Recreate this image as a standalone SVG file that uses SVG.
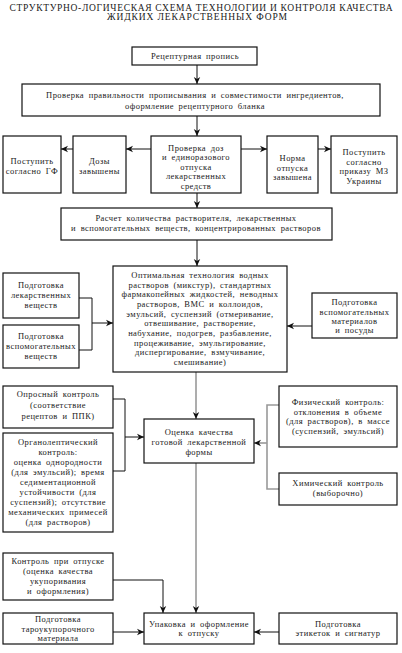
<svg xmlns="http://www.w3.org/2000/svg" width="402" height="653" viewBox="0 0 402 653">
<defs>
<style>
.box{fill:#fff;stroke:#111;stroke-width:1.2}
.t{font-family:"Liberation Serif","DejaVu Serif",serif;font-size:8.5px;fill:#1a1a1a;text-anchor:middle;letter-spacing:0.45px;word-spacing:2px}
.title{font-family:"Liberation Serif","DejaVu Serif",serif;font-size:9.5px;fill:#1a1a1a;text-anchor:middle}
.c{fill:none;stroke:#111;stroke-width:1}
.g{fill:none;stroke:#999;stroke-width:1.6}
</style>
<marker id="ab" markerWidth="8" markerHeight="8" refX="7" refY="4" orient="auto" markerUnits="userSpaceOnUse"><path d="M0,0.8 L7,4 L0,7.2 L2,4 z" fill="#111"/></marker>
<marker id="ag" markerWidth="8" markerHeight="8" refX="7" refY="4" orient="auto" markerUnits="userSpaceOnUse"><path d="M0,0.8 L7,4 L0,7.2 L2,4 z" fill="#111"/></marker>
</defs>
<rect width="402" height="653" fill="#fff"/>
<g id="title">
<text class="title" x="201" y="11" textLength="383" lengthAdjust="spacing">СТРУКТУРНО-ЛОГИЧЕСКАЯ СХЕМА ТЕХНОЛОГИИ И КОНТРОЛЯ КАЧЕСТВА</text>
<text class="title" x="197" y="20" textLength="180" lengthAdjust="spacing">ЖИДКИХ ЛЕКАРСТВЕННЫХ ФОРМ</text>
</g>
<g id="connectors">
<path class="c" d="M197,65 V84" marker-end="url(#ab)"/>
<path class="c" d="M197,116 V136" marker-end="url(#ab)"/>
<path class="c" d="M151,149 H126" marker-end="url(#ab)"/>
<path class="c" d="M73,149 H61" marker-end="url(#ab)"/>
<path class="c" d="M241,149 H267" marker-end="url(#ab)"/>
<path class="c" d="M318,149 H331" marker-end="url(#ab)"/>
<path class="c" d="M197,193 V208" marker-end="url(#ab)"/>
<path class="c" d="M197,240 V266" marker-end="url(#ab)"/>
<path class="c" d="M79,298 H92 V350 H79"/>
<path class="c" d="M92,323 H113" marker-end="url(#ab)"/>
<path class="c" d="M312,326 H287" marker-end="url(#ab)"/>
<path class="g" d="M196,372 V419" marker-end="url(#ag)"/>
<path class="c" d="M113,399 H125 V471 H113"/>
<path class="c" d="M125,437 H144" marker-end="url(#ab)"/>
<path class="g" d="M279,405 H267 V489 H279"/>
<path class="g" d="M267,443 H254" marker-end="url(#ag)"/>
<path class="g" d="M196,463 V613" marker-end="url(#ag)"/>
<path class="c" d="M113,580 H163 V613" marker-end="url(#ab)"/>
<path class="c" d="M113,632 H144" marker-end="url(#ab)"/>
<path class="c" d="M279,632 H254" marker-end="url(#ab)"/>
</g>
<g id="n1"><rect class="box" x="132" y="47" width="125" height="18"/>
<text class="t" x="195" y="59">Рецептурная пропись</text></g>
<g id="n2"><rect class="box" x="22" y="84" width="358" height="32"/>
<text class="t" x="195" y="98">Проверка правильности прописывания и совместимости ингредиентов,</text>
<text class="t" x="195" y="109">оформление рецептурного бланка</text></g>
<g id="n3a"><rect class="box" x="3" y="136" width="58" height="57"/>
<text class="t" x="32" y="164">Поступить</text>
<text class="t" x="32" y="174">согласно ГФ</text></g>
<g id="n3b"><rect class="box" x="73" y="136" width="53" height="57"/>
<text class="t" x="99.5" y="164">Дозы</text>
<text class="t" x="99.5" y="174">завышены</text></g>
<g id="n3c"><rect class="box" x="151" y="136" width="90" height="57"/>
<text class="t" x="196" y="151">Проверка доз</text>
<text class="t" x="196" y="160">и единоразового</text>
<text class="t" x="196" y="169.5">отпуска</text>
<text class="t" x="196" y="179">лекарственных</text>
<text class="t" x="196" y="188.5">средств</text></g>
<g id="n3d"><rect class="box" x="267" y="136" width="51" height="57"/>
<text class="t" x="292.5" y="161">Норма</text>
<text class="t" x="292.5" y="170.5">отпуска</text>
<text class="t" x="292.5" y="180">завышена</text></g>
<g id="n3e"><rect class="box" x="331" y="136" width="66" height="57"/>
<text class="t" x="364" y="155">Поступить</text>
<text class="t" x="364" y="164.5">согласно</text>
<text class="t" x="364" y="174">приказу МЗ</text>
<text class="t" x="364" y="183.5">Украины</text></g>
<g id="n4"><rect class="box" x="61" y="208" width="271" height="32"/>
<text class="t" x="196" y="221">Расчет количества растворителя, лекарственных</text>
<text class="t" x="196" y="231">и вспомогательных веществ, концентрированных растворов</text></g>
<g id="n5"><rect class="box" x="113" y="266" width="174" height="106"/>
<text class="t" x="200" y="278">Оптимальная технология водных</text>
<text class="t" x="200" y="287.7">растворов (микстур), стандартных</text>
<text class="t" x="200" y="297.4">фармакопейных жидкостей, неводных</text>
<text class="t" x="200" y="307">растворов, ВМС и коллоидов,</text>
<text class="t" x="200" y="316.7">эмульсий, суспензий (отмеривание,</text>
<text class="t" x="200" y="326.4">отвешивание, растворение,</text>
<text class="t" x="200" y="336">набухание, подогрев, разбавление,</text>
<text class="t" x="200" y="345.7">процеживание, эмульгирование,</text>
<text class="t" x="200" y="355.4">диспергирование, взмучивание,</text>
<text class="t" x="200" y="365">смешивание)</text></g>
<g id="n5a"><rect class="box" x="3" y="273" width="76" height="45"/>
<text class="t" x="41" y="288">Подготовка</text>
<text class="t" x="41" y="298">лекарственных</text>
<text class="t" x="41" y="308">веществ</text></g>
<g id="n5b"><rect class="box" x="3" y="325" width="76" height="43"/>
<text class="t" x="41" y="339">Подготовка</text>
<text class="t" x="41" y="349">вспомогательных</text>
<text class="t" x="41" y="359">веществ</text></g>
<g id="n5c"><rect class="box" x="312" y="293" width="85" height="45"/>
<text class="t" x="354.5" y="305">Подготовка</text>
<text class="t" x="354.5" y="315">вспомогательных</text>
<text class="t" x="354.5" y="324">материалов</text>
<text class="t" x="354.5" y="333">и посуды</text></g>
<g id="n6"><rect class="box" x="144" y="419" width="110" height="44"/>
<text class="t" x="199" y="435">Оценка качества</text>
<text class="t" x="199" y="445">готовой лекарственной</text>
<text class="t" x="199" y="455">формы</text></g>
<g id="n6a"><rect class="box" x="3" y="386" width="110" height="42"/>
<text class="t" x="58" y="397">Опросный контроль</text>
<text class="t" x="58" y="408">(соответствие</text>
<text class="t" x="58" y="419">рецептов и ППК)</text></g>
<g id="n6b"><rect class="box" x="3" y="433" width="110" height="99"/>
<text class="t" x="58" y="445">Органолептический</text>
<text class="t" x="58" y="455">контроль:</text>
<text class="t" x="58" y="465">оценка однородности</text>
<text class="t" x="58" y="475">(для эмульсий); время</text>
<text class="t" x="58" y="485">седиментационной</text>
<text class="t" x="58" y="495">устойчивости (для</text>
<text class="t" x="58" y="505">суспензий); отсутствие</text>
<text class="t" x="58" y="515">механических примесей</text>
<text class="t" x="58" y="525">(для растворов)</text></g>
<g id="n6c"><rect class="box" x="279" y="386" width="118" height="61"/>
<text class="t" x="338" y="405">Физический контроль:</text>
<text class="t" x="338" y="414.5">отклонения в объеме</text>
<text class="t" x="338" y="424">(для растворов), в массе</text>
<text class="t" x="338" y="433.5">(суспензий, эмульсий)</text></g>
<g id="n6d"><rect class="box" x="279" y="473" width="118" height="32"/>
<text class="t" x="338" y="486">Химический контроль</text>
<text class="t" x="338" y="496">(выборочно)</text></g>
<g id="n7"><rect class="box" x="144" y="613" width="110" height="31"/>
<text class="t" x="199" y="627">Упаковка и оформление</text>
<text class="t" x="199" y="636">к отпуску</text></g>
<g id="n7a"><rect class="box" x="3" y="553" width="110" height="47"/>
<text class="t" x="58" y="564">Контроль при отпуске</text>
<text class="t" x="58" y="574">(оценка качества</text>
<text class="t" x="58" y="584">укупоривания</text>
<text class="t" x="58" y="594">и оформления)</text></g>
<g id="n7b"><rect class="box" x="3" y="613" width="110" height="31"/>
<text class="t" x="58" y="622">Подготовка</text>
<text class="t" x="58" y="631.5">тароукупорочного</text>
<text class="t" x="58" y="641">материала</text></g>
<g id="n7c"><rect class="box" x="279" y="613" width="118" height="31"/>
<text class="t" x="338" y="627">Подготовка</text>
<text class="t" x="338" y="636">этикеток и сигнатур</text></g>
</svg>
